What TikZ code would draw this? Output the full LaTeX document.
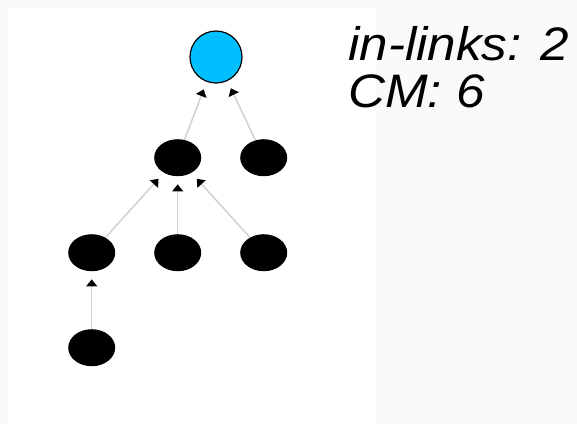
\documentclass[tikz,border=0pt]{standalone}
\usepackage{fontspec}
\setmainfont{Liberation Sans}
\newfontfamily\capfont[FakeStretch=1.09]{Liberation Sans}
\usetikzlibrary{arrows.meta,positioning,shapes.geometric}
\definecolor{skyfill}{RGB}{0,191,255}
\definecolor{edgegray}{RGB}{210,210,210}
\definecolor{pagegray}{RGB}{250,250,250}
\begin{document}
\begin{tikzpicture}[x=1pt,y=-1pt]
\tikzstyle{root} = [circle, draw=black, line width=1.2pt, fill=skyfill, minimum size=52pt, inner sep=0pt]
\tikzstyle{leaf} = [ellipse, fill=black, minimum width=47pt, minimum height=37pt, inner sep=0pt]
\tikzstyle{line} = [draw=edgegray, line width=1.5pt, -{Triangle[length=7pt,width=11pt,black]}, shorten >=8pt]
\tikzstyle{caption} = [font=\capfont\itshape\fontsize{47}{47}\selectfont, align=left, anchor=north west, inner sep=0pt]

 % page and white panel
 \fill[pagegray] (0,0) rectangle (577,424);
 \fill[white] (8,8) rectangle (376,424);
 \useasboundingbox (0,0) rectangle (577,424);

 \node [root] (top) at (216,57) {};
 \matrix [column sep=39pt,row sep=58pt,inner sep=0pt,anchor=north west] at (68,139)
	{
		% row 1
		& \node [leaf] (mid) {}; & \node [leaf] (side) {}; \\
		% row 2
		\node [leaf] (left) {}; & \node [leaf] (down) {}; & \node [leaf] (right) {}; \\
		% row 3
		\node [leaf] (low) {}; & & \\
	};

 \node [caption] (info) at (348,26) {in-links: 2\\CM: 6};

\tikzstyle{every path}=[line]
	\path (mid) -- (top);
	\path (side) -- (top);
	\path (left) -- (mid);
	\path (down) -- (mid);
	\path (right) -- (mid);
	\path (low) -- (left);
\end{tikzpicture}
\end{document}
